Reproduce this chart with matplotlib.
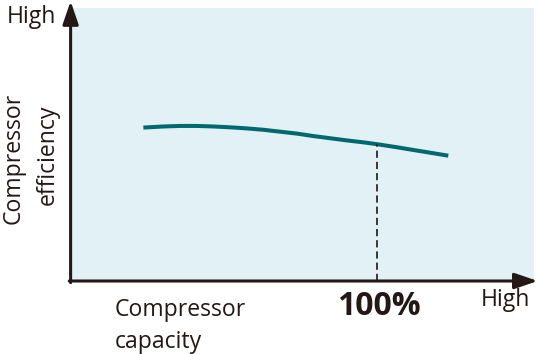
"""
Compressor efficiency vs. compressor capacity (schematic).
"""

import matplotlib
matplotlib.use('Agg')
import matplotlib.pyplot as plt

# Curve: capacity (%) vs. efficiency (arbitrary units, 0-100)
capacity = [23.4, 30.0, 35.4, 40.9, 46.4, 51.8, 57.3, 62.7, 68.2, 73.7,
            79.1, 84.6, 90.1, 95.5, 100.1, 106.5, 111.9, 117.4, 123.4]
efficiency = [56.2, 56.6, 56.8, 56.8, 56.6, 56.3, 55.9, 55.4, 54.7, 54.0,
              53.1, 52.3, 51.5, 50.8, 50.1, 49.0, 48.0, 47.0, 45.9]

rated_capacity = 100.0
rated_efficiency = 50.1

W, H = 540, 354
BG = '#e1f1f6'
LINE = '#00696e'
INK = '#231815'
FONT = 'Open Sans'


def fx(px):
    return px / W


def fy(py):
    return 1 - py / H


fig = plt.figure(figsize=(W / 100, H / 100), dpi=100)
fig.patch.set_facecolor('white')

left, right, top, bottom = 72, 534, 8, 281
ax = fig.add_axes([fx(left), fy(bottom), fx(right - left), (bottom - top) / H])
ax.set_facecolor(BG)
for s in ax.spines.values():
    s.set_visible(False)
ax.set_xticks([])
ax.set_yticks([])
ax.set_xlim(0, 151.5)
ax.set_ylim(0, 100)

ax.plot(capacity, efficiency, color=LINE, lw=2.9, solid_capstyle='butt')
ax.plot([rated_capacity, rated_capacity], [0, rated_efficiency],
        color='#2a2a2a', lw=1.3, linestyle=(0, (4, 2.2)))

# flechas de los ejes
arrow = dict(arrowstyle='-|>,head_length=1.4,head_width=0.48', mutation_scale=10,
             lw=2.2, color=INK, shrinkA=0, shrinkB=0)
ax.annotate('', xy=(-0.003, 1.025), xytext=(-0.003, -0.006),
            xycoords='axes fraction', textcoords='axes fraction',
            arrowprops=arrow, annotation_clip=False)
ax.annotate('', xy=(1.008, 0.0), xytext=(-0.006, 0.0),
            xycoords='axes fraction', textcoords='axes fraction',
            arrowprops=arrow, annotation_clip=False)

txt = dict(family=FONT, fontsize=16.6, color=INK)
fig.text(fx(7), fy(23), 'High', ha='left', va='baseline', **txt)
fig.text(fx(481), fy(306), 'High', ha='left', va='baseline', **txt)
fig.text(fx(115), fy(316), 'Compressor', ha='left', va='baseline', **txt)
fig.text(fx(115), fy(348), 'capacity', ha='left', va='baseline', **txt)
fig.text(fx(379), fy(315), '100%', ha='center', va='baseline',
         family=FONT, fontsize=23, fontweight='bold', color=INK)
fig.text(fx(20), fy(158), 'Compressor', rotation=90, rotation_mode='anchor',
         ha='center', va='baseline', **txt)
fig.text(fx(54), fy(155), 'efficiency', rotation=90, rotation_mode='anchor',
         ha='center', va='baseline', **txt)

fig.savefig('out.png', dpi=100)
plt.close(fig)
